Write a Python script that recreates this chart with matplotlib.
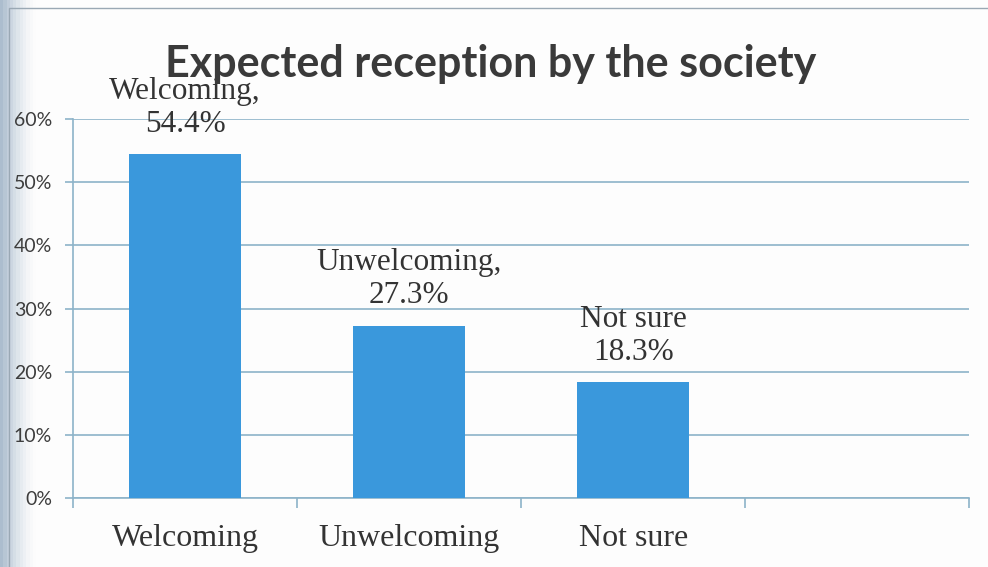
import numpy as np
import matplotlib.pyplot as plt
from matplotlib.ticker import FixedLocator
from matplotlib.patches import Rectangle

# %% Datos
categorias = ["Welcoming", "Unwelcoming", "Not sure"]
valores = [54.4, 27.3, 18.3]
etiquetas = ["Welcoming,\n54.4%", "Unwelcoming,\n27.3%", "Not sure\n18.3%"]
yticks = [0, 10, 20, 30, 40, 50, 60]
n_slots = 4

color_barra = "#3a98dc"
color_linea = "#8db3c9"
color_texto = "#333333"

# %% Figura
fig = plt.figure(figsize=(9.88, 5.67), dpi=100)
fig.patch.set_facecolor("#fdfdfd")

# Sombra gris en el borde izquierdo y marco del gráfico
fondo = fig.add_axes([0, 0, 1, 1], zorder=-1)
fondo.set_axis_off()
grad = np.linspace(0, 1, 300)
alfa = np.clip(1 - grad / 0.035, 0, 1) ** 1.5
img = np.ones((1, 300, 4))
img[..., :3] = np.array([0.62, 0.70, 0.78])
img[..., 3] = alfa * 0.85
fondo.imshow(img, extent=[0, 1, 0, 1], aspect="auto")
fondo.add_patch(Rectangle((0.009, -0.1), 1.2, 1.086, fill=False,
                          edgecolor="#9aa8b4", linewidth=1.0))
fondo.set_xlim(0, 1)
fondo.set_ylim(0, 1)

ax = fig.add_axes([0.0739, 0.1217, 0.9071, 0.6683])
ax.set_facecolor("none")

x = np.arange(len(categorias))
barras = ax.bar(x, valores, width=0.5, color=color_barra, zorder=3)

ax.set_xlim(-0.5, n_slots - 0.5)
ax.set_ylim(0, 60)

# Grilla horizontal
ax.set_yticks(yticks)
ax.set_yticklabels([f"{v}%" for v in yticks], fontfamily="Lato",
                   fontsize=14, color="#3d3d3d")
ax.yaxis.grid(True, color=color_linea, linewidth=1.2, zorder=0)
ax.tick_params(axis="y", length=6, width=1.2, color=color_linea, pad=9)

# Eje x: etiquetas centradas, marcas en los bordes de cada categoría
ax.set_xticks(x)
ax.set_xticklabels(categorias, fontfamily="Liberation Serif", fontsize=23,
                   color=color_texto)
ax.tick_params(axis="x", which="major", length=0, pad=19)
ax.xaxis.set_minor_locator(FixedLocator(np.arange(n_slots + 1) - 0.5))
ax.tick_params(axis="x", which="minor", length=7, width=1.2, color=color_linea)

for lado in ["top", "right"]:
    ax.spines[lado].set_visible(False)
ax.spines["left"].set_color(color_linea)
ax.spines["bottom"].set_color(color_linea)
ax.spines["left"].set_linewidth(1.2)
ax.spines["bottom"].set_linewidth(1.2)

# Etiquetas de valor sobre cada barra
for xi, v, txt in zip(x, valores, etiquetas):
    ax.annotate(txt, (xi, v), xytext=(0, 11), textcoords="offset points",
                ha="center", va="bottom", fontfamily="Liberation Serif",
                fontsize=22.5, color=color_texto, linespacing=1.2, zorder=4)

fig.text(0.497, 0.888, "Expected reception by the society", ha="center",
         va="center", fontfamily="Lato", fontweight="bold", fontsize=31,
         color="#3a3a3a")

fig.savefig("out.png", dpi=100, facecolor=fig.get_facecolor())
